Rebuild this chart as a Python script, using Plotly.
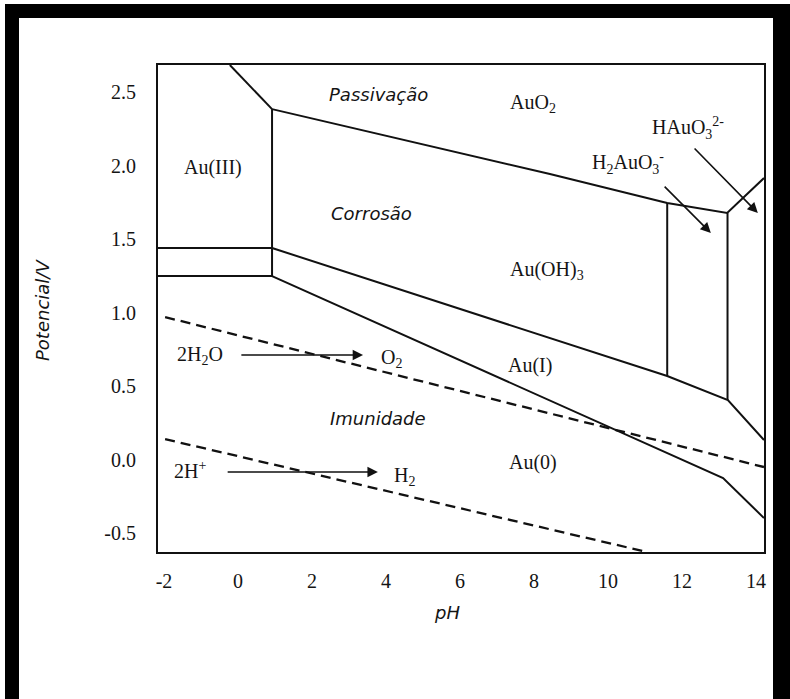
import plotly.graph_objects as go

# ---- Pourbaix (E–pH) diagram for gold: boundaries in (pH, E / V) ----

# Au(III) | AuO2 boundary (upper-left diagonal)
au3_auo2_ph = [-0.22, 0.92]
au3_auo2_e = [2.684, 2.384]

# AuO2 | Au(OH)3 / H2AuO3- / HAuO3 2- boundary
auo2_ph = [0.92, 8.43, 11.60, 13.22, 14.216]
auo2_e = [2.384, 1.942, 1.745, 1.677, 1.915]

# Au(III) | Au(OH)3 vertical
au3_oh3_ph = [0.92, 0.92]
au3_oh3_e = [2.384, 1.248]

# horizontal boundaries on the acid side
acid_upper_ph = [-2.2, 0.92]
acid_upper_e = [1.439, 1.439]
acid_lower_ph = [-2.2, 0.92]
acid_lower_e = [1.248, 1.248]

# Au(OH)3 | Au(I) boundary
oh3_au1_ph = [0.92, 11.60, 13.24, 14.216]
oh3_au1_e = [1.439, 0.568, 0.405, 0.133]

# Au(I) | Au(0) boundary
au1_au0_ph = [0.92, 13.11, 14.216]
au1_au0_e = [1.248, -0.126, -0.398]

# Au(OH)3 | H2AuO3- and H2AuO3- | HAuO3 2- verticals
v_h2auo3_ph = [11.60, 11.60]
v_h2auo3_e = [1.745, 0.568]
v_hauo3_ph = [13.23, 13.23]
v_hauo3_e = [1.677, 0.405]

# water stability lines (dashed)
o2_h2o_ph = [-1.97, 14.216]
o2_h2o_e = [0.969, -0.051]
h_h2_ph = [-1.97, 11.05]
h_h2_e = [0.139, -0.629]

# region names
region_text = ["Au(III)", "AuO<sub>2</sub>", "Au(OH)<sub>3</sub>", "Au(I)", "Au(0)"]
region_ph = [-0.68, 7.97, 8.35, 7.89, 7.97]
region_e = [1.99, 2.425, 1.289, 0.643, -0.017]

# behaviour zones
zone_text = ["Passivação", "Corrosão", "Imunidade"]
zone_ph = [3.81, 3.62, 3.78]
zone_e = [2.48, 1.677, 0.282]

# reactions: reactant label, product label and the arrow between them
reaction_left = ["2H<sub>2</sub>O", "2H<sup>+</sup>"]
reaction_right = ["O<sub>2</sub>", "H<sub>2</sub>"]
reaction_left_ph = [-1.03, -1.30]
reaction_left_e = [0.711, -0.07]
reaction_right_ph = [4.16, 4.49]
reaction_right_e = [0.69, -0.112]
reaction_tail_ph = [0.05, -0.32]
reaction_head_ph = [3.38, 3.78]
reaction_e = [0.711, -0.085]

# pointer labels for the narrow alkaline fields
pointer_text = ["H<sub>2</sub>AuO<sub>3</sub><sup>-</sup>", "HAuO<sub>3</sub><sup>2-</sup>"]
pointer_ph = [10.54, 12.16]
pointer_e = [2.017, 2.255]
pointer_tail_ph = [11.49, 12.30]
pointer_tail_e = [1.867, 2.126]
pointer_head_ph = [12.78, 14.05]
pointer_head_e = [1.541, 1.677]

# axes
x_ticks = [-2, 0, 2, 4, 6, 8, 10, 12, 14]
x_ticktext = ["-2", "0", "2", "4", "6", "8", "10", "12", "14"]
y_ticks = [-0.5, 0.0, 0.5, 1.0, 1.5, 2.0, 2.5]
y_ticktext = ["-0.5", "0.0", "0.5", "1.0", "1.5", "2.0", "2.5"]
x_range = [-2.162, 14.216]
y_range = [-0.629, 2.684]

# ---- figure ----
W, H = 790, 699
ML, MR, MT, MB = 158, 26, 65, 147
LINE = "#111111"
TEXT = "#141414"
SERIF = "Liberation Serif"
SANS = "DejaVu Sans"

fig = go.Figure()

solid = [
    (au3_auo2_ph, au3_auo2_e), (auo2_ph, auo2_e), (au3_oh3_ph, au3_oh3_e),
    (acid_upper_ph, acid_upper_e), (acid_lower_ph, acid_lower_e),
    (oh3_au1_ph, oh3_au1_e), (au1_au0_ph, au1_au0_e),
    (v_h2auo3_ph, v_h2auo3_e), (v_hauo3_ph, v_hauo3_e),
]
for xs, ys in solid:
    fig.add_trace(go.Scatter(x=xs, y=ys, mode="lines",
                             line=dict(color=LINE, width=2),
                             hoverinfo="skip", showlegend=False))

for xs, ys in [(o2_h2o_ph, o2_h2o_e), (h_h2_ph, h_h2_e)]:
    fig.add_trace(go.Scatter(x=xs, y=ys, mode="lines",
                             line=dict(color=LINE, width=2.3, dash="10px,6px"),
                             hoverinfo="skip", showlegend=False))

annotations = []
serif_font = dict(family=SERIF, size=20, color=TEXT)
sans_font = dict(family=SANS, size=18, color=TEXT)

def label(x, y, text, font):
    return dict(x=x, y=y, xref="x", yref="y", text=text, showarrow=False,
                xanchor="center", yanchor="middle", font=font)

def arrow(x0, y0, x1, y1):
    return dict(x=x1, y=y1, ax=x0, ay=y0, xref="x", yref="y",
                axref="x", ayref="y", text="", showarrow=True,
                arrowhead=2, arrowsize=1.3, arrowwidth=1.6, arrowcolor=LINE)

for t, px, py in zip(region_text, region_ph, region_e):
    annotations.append(label(px, py, t, serif_font))
for t, px, py in zip(zone_text, zone_ph, zone_e):
    annotations.append(label(px, py, f"<i>{t}</i>", sans_font))
for t, px, py in zip(reaction_left, reaction_left_ph, reaction_left_e):
    annotations.append(label(px, py, t, serif_font))
for t, px, py in zip(reaction_right, reaction_right_ph, reaction_right_e):
    annotations.append(label(px, py, t, serif_font))
for x0, x1, e in zip(reaction_tail_ph, reaction_head_ph, reaction_e):
    annotations.append(arrow(x0, e, x1, e))
for t, px, py in zip(pointer_text, pointer_ph, pointer_e):
    annotations.append(label(px, py, t, serif_font))
for x0, y0, x1, y1 in zip(pointer_tail_ph, pointer_tail_e,
                          pointer_head_ph, pointer_head_e):
    annotations.append(arrow(x0, y0, x1, y1))

# axis titles, placed in paper coordinates
pw, ph = W - ML - MR, H - MT - MB
def px_to_paper(xp, yp):
    return (xp - ML) / pw, (H - MB - yp) / ph

tx, ty = px_to_paper(447, 612)
annotations.append(dict(x=tx, y=ty, xref="paper", yref="paper", text="<i>pH</i>",
                        xanchor="center", yanchor="middle",
                        showarrow=False, font=sans_font))
tx, ty = px_to_paper(42, 310)
annotations.append(dict(x=tx, y=ty, xref="paper", yref="paper",
                        text="<i>Potencial/V</i>", textangle=-90,
                        xanchor="center", yanchor="middle",
                        showarrow=False, font=sans_font))

# heavy black frame around the whole figure
shapes = []
for (x0, y0, x1, y1) in [(5, 4, 790, 18), (5, 4, 19, 699), (773, 4, 790, 699)]:
    a0, b0 = px_to_paper(x0, y0)
    a1, b1 = px_to_paper(x1, y1)
    shapes.append(dict(type="rect", xref="paper", yref="paper",
                       x0=a0, y0=b1, x1=a1, y1=b0,
                       fillcolor="black", line=dict(width=0)))

axis_common = dict(showgrid=False, zeroline=False, showline=True, mirror=True,
                   linecolor=LINE, linewidth=2, ticks="",
                   tickfont=dict(family=SERIF, size=20, color=TEXT))

fig.update_layout(
    width=W, height=H,
    margin=dict(l=ML, r=MR, t=MT, b=MB),
    paper_bgcolor="white", plot_bgcolor="white",
    xaxis=dict(range=x_range, tickvals=x_ticks, ticktext=x_ticktext,
               ticklabelstandoff=10, **axis_common),
    yaxis=dict(range=y_range, tickvals=y_ticks, ticktext=y_ticktext,
               ticklabelstandoff=16, **axis_common),
    annotations=annotations,
    shapes=shapes,
    showlegend=False,
)

fig.write_html("out.html")
